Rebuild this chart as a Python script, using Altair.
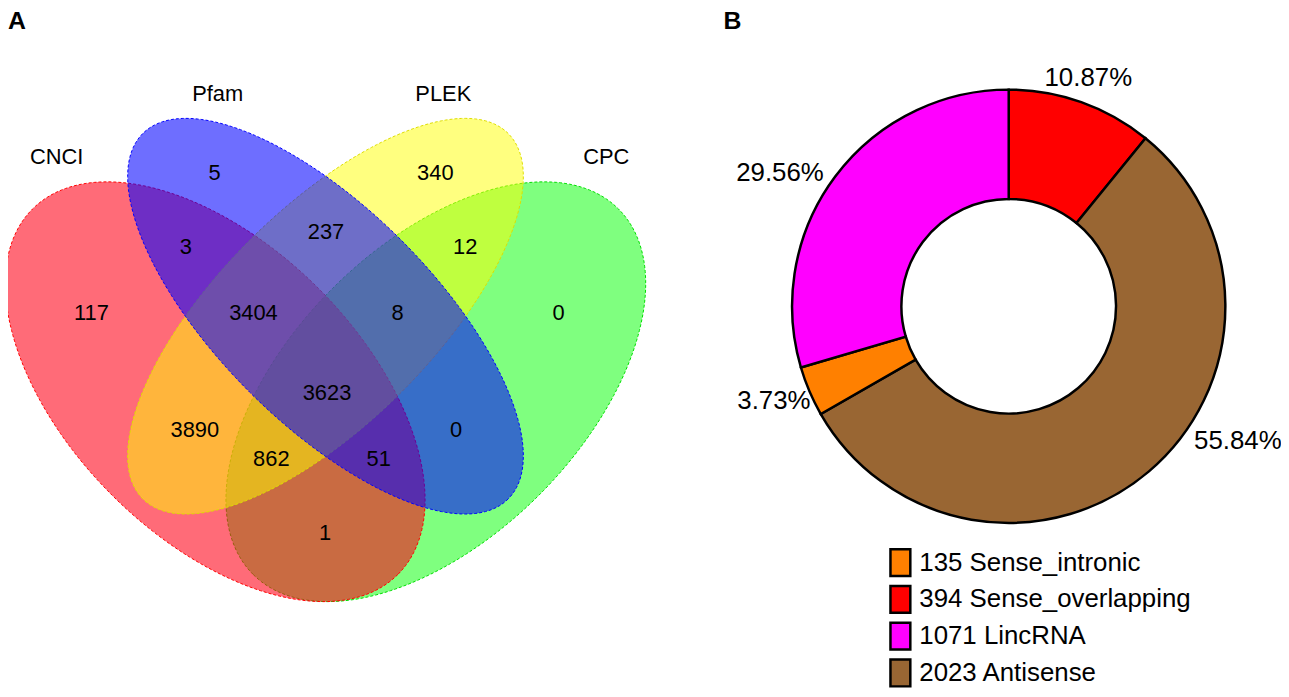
import math
import altair as alt
import numpy as np
import pandas as pd

FONT = "Liberation Sans"

# ---------------- data ----------------
# Panel A: 4-set Venn diagram
set_names = ["CNCI", "Pfam", "PLEK", "CPC"]
region_names = [
    "CNCI", "Pfam", "PLEK", "CPC",
    "CNCI&Pfam", "Pfam&PLEK", "PLEK&CPC",
    "CNCI&Pfam&PLEK", "Pfam&PLEK&CPC", "CNCI&Pfam&PLEK&CPC",
    "CNCI&PLEK", "Pfam&CPC", "CNCI&PLEK&CPC", "CNCI&Pfam&CPC", "CNCI&CPC",
]
region_counts = [117, 5, 340, 0, 3, 237, 12, 3404, 8, 3623, 3890, 0, 862, 51, 1]

# Panel B: donut (clockwise from 12 o'clock)
lnc_types = ["Sense_overlapping", "Antisense", "Sense_intronic", "LincRNA"]
lnc_counts = [394, 2023, 135, 1071]
lnc_pct_labels = ["10.87%", "55.84%", "3.73%", "29.56%"]
lnc_colors = ["#FF0000", "#996633", "#FF8000", "#FF00FF"]

# ---------------- layout / style ----------------
M = 8  # page margin (screen -> chart coordinates)
W, H = 1281, 681

# ellipse geometry (screen px, y down) and style, in drawing order
ELLIPSES = [
    ("CPC",  dict(cx=438.5, cy=392, a=260, b=147, phi=135, fill="#00FF00", alpha=0.50, edge="#00DD00")),
    ("CNCI", dict(cx=216.5, cy=392, a=260, b=147, phi=45,  fill="#FF0016", alpha=0.58, edge="#FF0000")),
    ("PLEK", dict(cx=327.5, cy=316, a=260, b=108, phi=135, fill="#FFFF00", alpha=0.50, edge="#DDDD00")),
    ("Pfam", dict(cx=327.5, cy=316, a=260, b=108, phi=45,  fill="#0000FF", alpha=0.57, edge="#0000FF")),
]
SET_LABEL_POS = {"CNCI": (57, 156), "Pfam": (219, 92), "PLEK": (446, 92), "CPC": (610, 156)}
REGION_POS = {
    "CNCI": (92, 313), "Pfam": (216, 172), "PLEK": (438, 172), "CPC": (562, 313),
    "CNCI&Pfam": (187, 246), "Pfam&PLEK": (328, 231), "PLEK&CPC": (468, 246),
    "CNCI&Pfam&PLEK": (255, 313), "Pfam&PLEK&CPC": (400, 313), "CNCI&Pfam&PLEK&CPC": (329, 393),
    "CNCI&PLEK": (196, 431), "Pfam&CPC": (459, 431), "CNCI&PLEK&CPC": (273, 460),
    "CNCI&Pfam&CPC": (381, 460), "CNCI&CPC": (327, 534),
}
DONUT_CX, DONUT_CY = 1015 - M, 306 - M
R_OUT, R_IN = 218, 108
LABEL_R = 245
LABEL_NUDGE = {"Sense_overlapping": (-2, 1), "LincRNA": (-34, 13),
               "Sense_intronic": (-11, -1), "Antisense": (72, -51)}

proj = dict(type="identity", scale=1, translate=[-M, -M])


def ellipse_feature(p, n=240):
    t = np.linspace(0, 2 * np.pi, n + 1)
    phi = math.radians(p["phi"])
    xs = p["cx"] + p["a"] * np.cos(t) * math.cos(phi) - p["b"] * np.sin(t) * math.sin(phi)
    ys = p["cy"] + p["a"] * np.cos(t) * math.sin(phi) + p["b"] * np.sin(t) * math.cos(phi)
    ring = [[round(float(x), 2), round(float(y), 2)] for x, y in zip(xs, ys)]
    ring[-1] = ring[0]
    return {"type": "Feature", "properties": {},
            "geometry": {"type": "Polygon", "coordinates": [ring]}}


layers = []

# ---- Venn ellipses ----
for name, p in ELLIPSES:
    layers.append(
        alt.Chart(alt.Data(values=[ellipse_feature(p)]))
        .mark_geoshape(fill=p["fill"], fillOpacity=p["alpha"], stroke=p["edge"],
                       strokeWidth=1, strokeDash=[3, 2])
        .project(**proj)
    )

# ---- Venn numbers ----
venn_df = pd.DataFrame({
    "region": region_names,
    "count": region_counts,
    "lon": [REGION_POS[r][0] for r in region_names],
    "lat": [REGION_POS[r][1] for r in region_names],
})
layers.append(
    alt.Chart(venn_df).mark_text(font=FONT, fontSize=22, color="black", baseline="middle")
    .encode(longitude="lon:Q", latitude="lat:Q", text="count:Q")
    .project(**proj)
)

# ---- Venn set labels ----
set_df = pd.DataFrame({
    "name": set_names,
    "lon": [SET_LABEL_POS[s][0] for s in set_names],
    "lat": [SET_LABEL_POS[s][1] for s in set_names],
})
layers.append(
    alt.Chart(set_df).mark_text(font=FONT, fontSize=22, color="black", baseline="middle")
    .encode(longitude="lon:Q", latitude="lat:Q", text="name:N")
    .project(**proj)
)

# ---- Donut ----
total = sum(lnc_counts)
donut_df = pd.DataFrame({
    "type": lnc_types,
    "count": lnc_counts,
    "pct": lnc_pct_labels,
    "pos": list(range(len(lnc_types))),
})
donut_df["label"] = donut_df["count"].astype(str) + " " + donut_df["type"]
leg = donut_df.sort_values("count")
legend_domain = [str(donut_df["count"][i]) + " " + donut_df["type"][i] for i in leg.index]
legend_range = [lnc_colors[i] for i in leg.index]

theta_scale = alt.Scale(domain=[0, total], range=[0, 2 * math.pi])

base = (
    alt.Chart(donut_df)
    .transform_window(end="sum(count)", sort=[alt.SortField("pos", order="ascending")], frame=[None, 0])
    .transform_calculate(start="datum.end - datum.count")
    .transform_calculate(mid="(datum.start + datum.end) / 2")
)

arcs = base.mark_arc(radius=R_OUT, radius2=R_IN, stroke="black", strokeWidth=2.5).encode(
    theta=alt.Theta("start:Q", scale=theta_scale, stack=False),
    theta2="end:Q",
    color=alt.Color(
        "label:N",
        scale=alt.Scale(domain=legend_domain, range=legend_range),
        legend=alt.Legend(
            orient="none", legendX=883, legendY=541, title=None, padding=0,
            symbolType="M-0.74,-1H0.74V1H-0.74Z", symbolSize=729,
            symbolStrokeColor="black", symbolStrokeWidth=2.5, symbolOpacity=1,
            labelFont=FONT, labelFontSize=26, labelColor="black", labelOffset=4,
            rowPadding=-1, labelLimit=600,
        ),
    ),
    x=alt.value(DONUT_CX), y=alt.value(DONUT_CY),
)
layers.append(arcs)

for t in lnc_types:
    dx, dy = LABEL_NUDGE[t]
    layers.append(
        base.transform_filter(alt.datum.type == t)
        .mark_text(radius=LABEL_R, dx=dx, dy=dy, font=FONT, fontSize=26, color="black",
                   align="center", baseline="middle")
        .encode(theta=alt.Theta("mid:Q", scale=theta_scale), text="pct:N",
                x=alt.value(DONUT_CX), y=alt.value(DONUT_CY))
    )

# ---- panel letters ----
for letter, px in (("A", 8), ("B", 728)):
    layers.append(
        alt.Chart(pd.DataFrame({"t": [letter]}))
        .mark_text(font=FONT, fontSize=25, fontWeight="bold", color="black",
                   align="left", baseline="alphabetic")
        .encode(text="t:N", x=alt.value(px - M), y=alt.value(27 - M))
    )

chart = (
    alt.layer(*layers)
    .properties(width=W, height=H, autosize=alt.AutoSizeParams(type="none"), padding=0,
                background="white")
    .configure_view(strokeWidth=0)
)

chart.save("out.html", embed_options={"renderer": "svg", "actions": False})
